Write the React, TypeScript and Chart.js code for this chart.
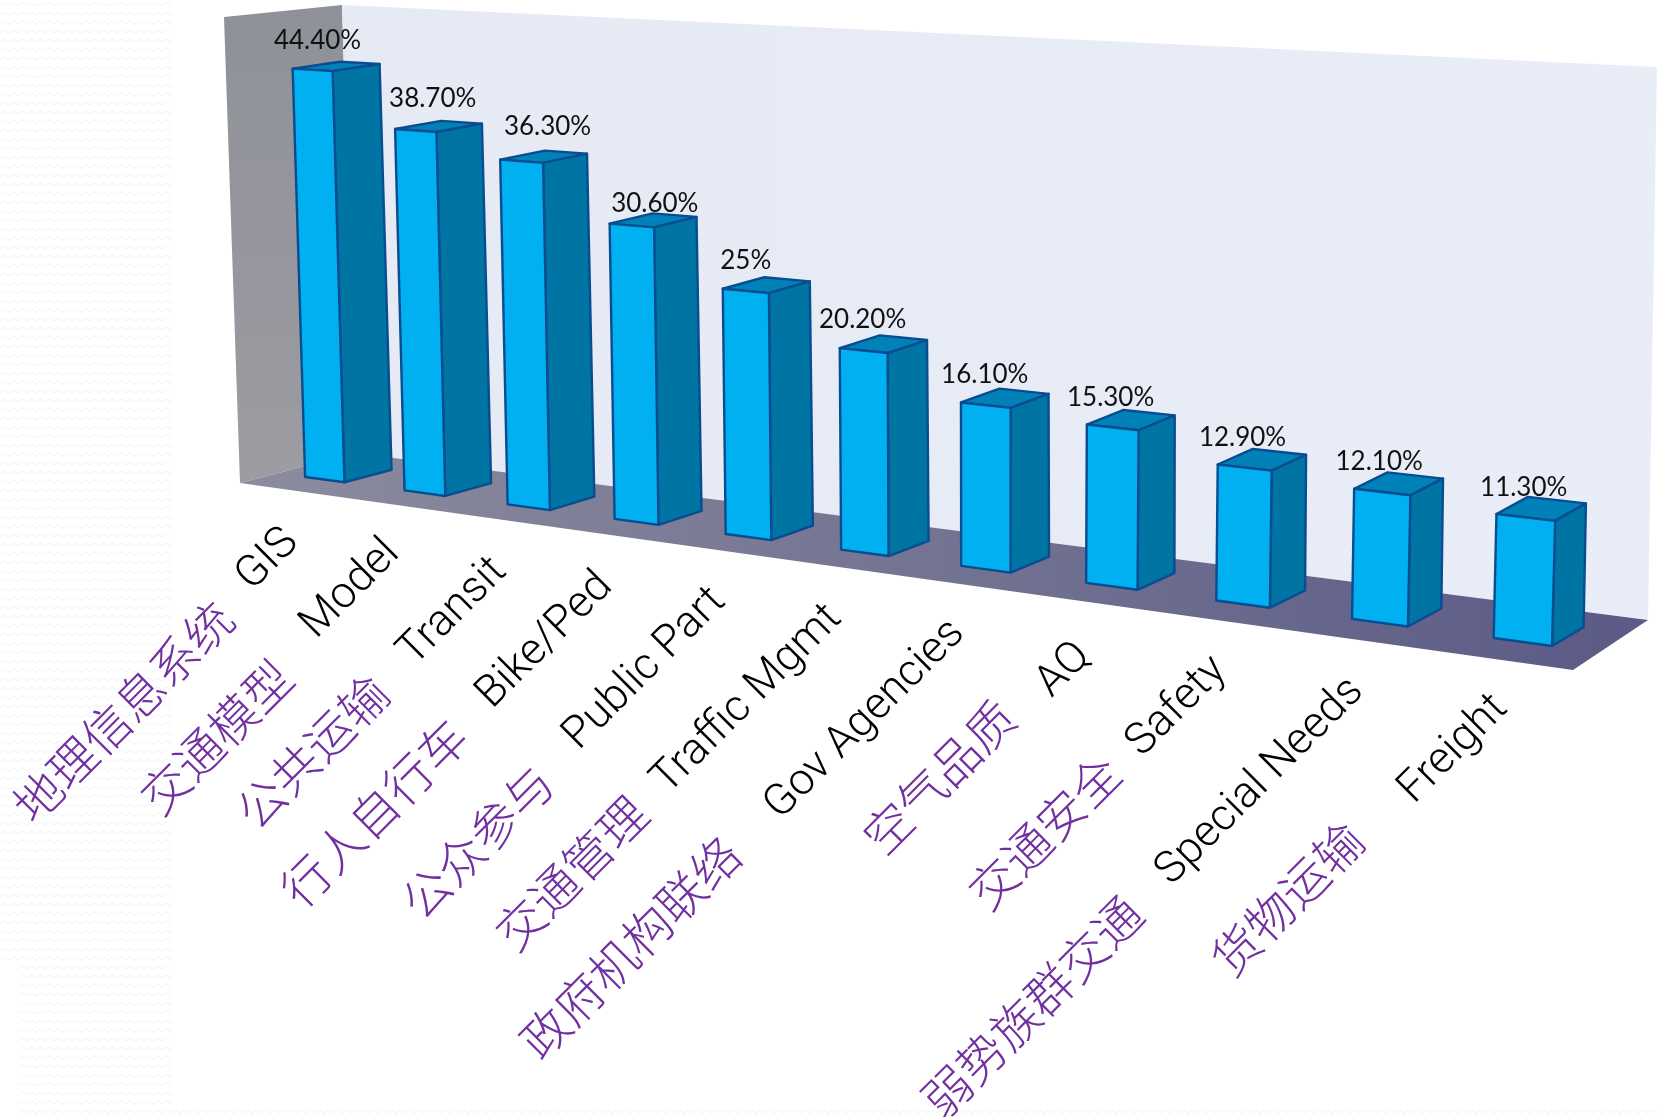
import React, { useEffect, useRef } from "react";
import { Chart, registerables } from "chart.js";

Chart.register(...registerables);

// Survey shares per topic, in percent.
const categories = ["GIS", "Model", "Transit", "Bike/Ped", "Public Part", "Traffic Mgmt", "Gov Agencies", "AQ", "Safety", "Special Needs", "Freight"];
const categoriesZh = ["地理信息系统", "交通模型", "公共运输", "行人自行车", "公众参与", "交通管理", "政府机构联络", "空气品质", "交通安全", "弱势族群交通", "货物运输"];
const shares = [44.4, 38.7, 36.3, 30.6, 25, 20.2, 16.1, 15.3, 12.9, 12.1, 11.3];
const shareLabels = ["44.40%", "38.70%", "36.30%", "30.60%", "25%", "20.20%", "16.10%", "15.30%", "12.90%", "12.10%", "11.30%"];

// Canvas positions where each rotated label ends.
const enLabelEnds = [[292, 536], [393, 547], [500, 565], [606, 580], [719, 595], [835, 612], [958, 627], [1084, 650], [1220, 664], [1357, 685], [1501, 702]];
const zhLabelEnds = [[225, 610], [284, 669], [380, 684], [459, 728], [545, 774], [639, 805], [732, 846], [1007, 709], [1112, 764], [1134, 905], [1355, 831]];
const valueLabelNudgeX = [5, 17, 26, 23, 0, -1, -1, -2, -2, -3, -2];
const valueLabelNudgeY = [3, 0, -3, 10, 2, 1, 1, 2, 2, 2, 2];

type Pt = number[];

// Perspective frame of the bar fronts and backs: corners at (left,0), (right,0), (right,max), (left,max).
const FRONT_PLANE: Pt[] = [[276, 473], [1596.5, 652], [1612, 84], [261.4, 14.6]];
const BACK_PLANE: Pt[] = [[324, 461], [1627.5, 633], [1639, 72], [309.4, 8.6]];

// The room the bars stand in.
const ROOM = {
  wallTopLeft: [224, 17],
  wallBottomLeft: [240, 483],
  cornerTop: [342, 5],
  cornerBottom: [355, 453],
  backTopRight: [1657, 67],
  backBottomRight: [1648, 620],
  floorFrontRight: [1573, 670],
};

// Slide-background texture strips along the left and bottom edges: x, y, width, height.
const TEXTURE_AREAS = [[0, 0, 172, 960], [19, 960, 153, 157], [172, 1105, 1488, 12]];

const LABEL_ANGLE = (-45 * Math.PI) / 180;

function quadMap(c: Pt[]) {
  const [[x0, y0], [x1, y1], [x2, y2], [x3, y3]] = c;
  const dx1 = x1 - x2, dx2 = x3 - x2, sx = x0 - x1 + x2 - x3;
  const dy1 = y1 - y2, dy2 = y3 - y2, sy = y0 - y1 + y2 - y3;
  const den = dx1 * dy2 - dx2 * dy1;
  const g = (sx * dy2 - dx2 * sy) / den;
  const h = (dx1 * sy - sx * dy1) / den;
  const a = x1 - x0 + g * x1, b = x3 - x0 + h * x3;
  const d = y1 - y0 + g * y1, e = y3 - y0 + h * y3;
  return (p: number, q: number): Pt => {
    const w = g * p + h * q + 1;
    return [(a * p + b * q + x0) / w, (d * p + e * q + y0) / w];
  };
}

function polygon(ctx: CanvasRenderingContext2D, pts: Pt[], fill: string | CanvasGradient, stroke?: string) {
  ctx.beginPath();
  pts.forEach((pt, i) => (i ? ctx.lineTo(pt[0], pt[1]) : ctx.moveTo(pt[0], pt[1])));
  ctx.closePath();
  ctx.fillStyle = fill;
  ctx.fill();
  if (stroke) {
    ctx.strokeStyle = stroke;
    ctx.lineWidth = 2.4;
    ctx.lineJoin = "round";
    ctx.stroke();
  }
}

function waveTile() {
  const tile = document.createElement("canvas");
  tile.width = 9;
  tile.height = 9;
  const t = tile.getContext("2d") as CanvasRenderingContext2D;
  t.strokeStyle = "#f2f2f2";
  t.lineWidth = 1;
  t.beginPath();
  t.moveTo(0, 6);
  t.lineTo(4.5, 3);
  t.lineTo(9, 6);
  t.stroke();
  return tile;
}

const front = quadMap(FRONT_PLANE);
const back = quadMap(BACK_PLANE);

const room3d = {
  id: "room3d",
  beforeDraw(chart: any) {
    const ctx = chart.ctx as CanvasRenderingContext2D;
    const pattern = ctx.createPattern(waveTile(), "repeat") as CanvasPattern;
    ctx.fillStyle = pattern;
    TEXTURE_AREAS.forEach(([x, y, w, h]) => ctx.fillRect(x, y, w, h));
  },
  beforeDatasetsDraw(chart: any) {
    const ctx = chart.ctx as CanvasRenderingContext2D;
    const r = ROOM;
    const wallFill = ctx.createLinearGradient(0, 0, 0, 480);
    wallFill.addColorStop(0, "#8f9199");
    wallFill.addColorStop(1, "#9c9ca2");
    polygon(ctx, [r.wallTopLeft, r.cornerTop, r.cornerBottom, r.wallBottomLeft], wallFill);
    const backFill = ctx.createLinearGradient(340, 0, 1660, 0);
    backFill.addColorStop(0, "#e6eaf5");
    backFill.addColorStop(1, "#e9edf8");
    polygon(ctx, [r.cornerTop, r.backTopRight, r.backBottomRight, r.cornerBottom], backFill);
    const floorFill = ctx.createLinearGradient(240, 0, 1650, 0);
    floorFill.addColorStop(0, "#8b8c9e");
    floorFill.addColorStop(1, "#5b5a86");
    polygon(ctx, [r.wallBottomLeft, r.cornerBottom, r.backBottomRight, r.floorFrontRight], floorFill);
  },
  afterDatasetsDraw(chart: any) {
    const ctx = chart.ctx as CanvasRenderingContext2D;
    const area = chart.chartArea;
    const P = (px: number) => (px - area.left) / area.width;
    const Q = (py: number) => (area.bottom - py) / area.height;
    const edge = "#0a4c90";
    chart.getDatasetMeta(0).data.forEach((bar: any, i: number) => {
      const { x, y, base, width } = bar.getProps(["x", "y", "base", "width"], true);
      const pl = P(x - width / 2), pr = P(x + width / 2), q0 = Q(base), q1 = Q(y);
      const fbl = front(pl, q0), fbr = front(pr, q0), ftl = front(pl, q1), ftr = front(pr, q1);
      const bbr = back(pr, q0), btl = back(pl, q1), btr = back(pr, q1);
      polygon(ctx, [ftl, btl, btr, ftr], "#0082b8", edge);
      polygon(ctx, [fbr, ftr, btr, bbr], "#0074a3", edge);
      polygon(ctx, [fbl, fbr, ftr, ftl], "#00b0f0", edge);

      const c = front((pl + pr) / 2, q1);
      ctx.fillStyle = "#111111";
      ctx.font = "26px Lato";
      ctx.textAlign = "center";
      ctx.textBaseline = "middle";
      ctx.fillText(shareLabels[i], c[0] + valueLabelNudgeX[i], c[1] - 32 + valueLabelNudgeY[i]);

      ctx.save();
      ctx.translate(enLabelEnds[i][0], enLabelEnds[i][1]);
      ctx.rotate(LABEL_ANGLE);
      ctx.textAlign = "right";
      ctx.fillStyle = "#000000";
      ctx.font = "300 44px Roboto";
      ctx.fillText(categories[i], 0, 0);
      ctx.restore();

      ctx.save();
      ctx.translate(zhLabelEnds[i][0], zhLabelEnds[i][1]);
      ctx.rotate(LABEL_ANGLE);
      ctx.textAlign = "right";
      ctx.fillStyle = "#7030a0";
      ctx.font = '300 48px "Noto Sans CJK SC"';
      ctx.fillText(categoriesZh[i], 0, 0);
      ctx.restore();
    });
  },
};

export default function App() {
  const ref = useRef<HTMLCanvasElement>(null);
  useEffect(() => {
    const chart = new Chart(ref.current as HTMLCanvasElement, {
      type: "bar",
      data: {
        labels: categories,
        datasets: [{ data: shares, backgroundColor: "rgba(0,0,0,0)", barPercentage: 0.4, categoryPercentage: 1 }],
      },
      options: {
        responsive: false,
        animation: false,
        layout: { padding: 0 },
        plugins: { legend: { display: false }, tooltip: { enabled: false } },
        scales: {
          x: { display: false },
          y: { display: false, min: 0, max: 50 },
        },
      },
      plugins: [room3d],
    });
    return () => chart.destroy();
  }, []);
  return <canvas ref={ref} width={1660} height={1117} style={{ position: "fixed", left: 0, top: 0, display: "block" }} />;
}
